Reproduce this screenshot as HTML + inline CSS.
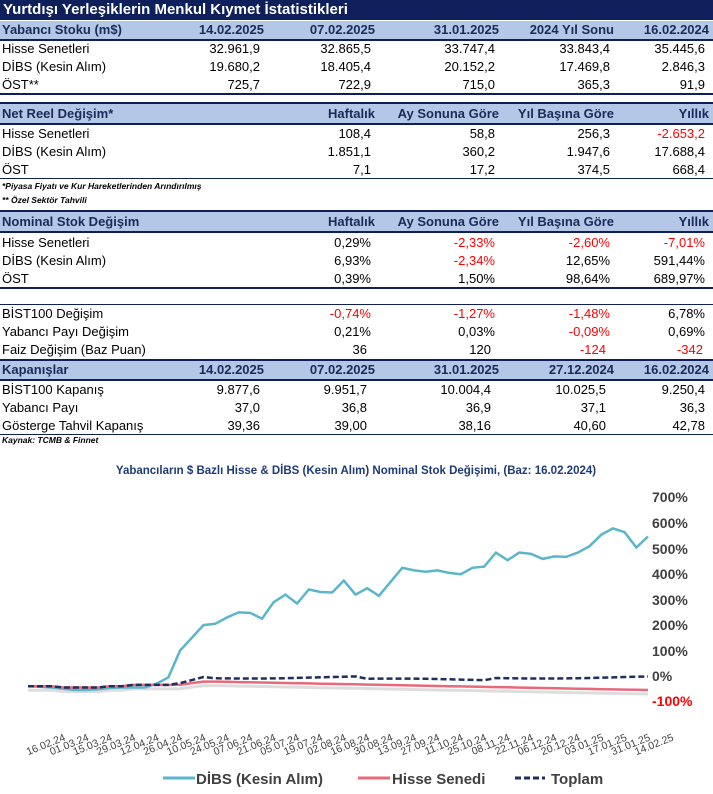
<!DOCTYPE html>
<html><head><meta charset="utf-8">
<style>
body{margin:0;width:713px;height:794px;background:#fff;position:relative;overflow:hidden;font-family:"Liberation Sans",Arial,sans-serif;}
.a{position:absolute;}
.bar{position:absolute;left:0;width:713px;}
.r{position:absolute;left:0;width:713px;height:18px;font-size:13px;line-height:18px;color:#000;}
.r span{position:absolute;top:0;white-space:nowrap;}
.r .l{left:2px;}
.h{font-weight:bold;color:#1a2a5a;font-size:13px;}
.c1{right:449px}.c2{right:338px}.c3{right:214px}.c4{right:99px}.c5{right:4px}
.d .c1{right:453px}.d .c2{right:342px}.d .c3{right:218px}.d .c4{right:103px}.d .c5{right:8px}
.red{color:#f00;}
.note{position:absolute;left:2px;font-size:8.5px;font-weight:bold;font-style:italic;}
</style></head><body>
<div class="bar" style="top:0;height:20px;background:#0e1f5b;"></div>
<div class="a" style="left:3px;top:1px;font-size:15px;font-weight:bold;color:#fff;">Yurtdışı Yerleşiklerin Menkul Kıymet İstatistikleri</div>

<div class="bar" style="top:21px;height:18px;background:#b4c7e7;"></div>
<div class="bar" style="top:39px;height:2px;background:#0e1f5b;"></div>
<div class="r h" style="top:21px"><span class="l">Yabancı Stoku (m$)</span><span class="c1">14.02.2025</span><span class="c2">07.02.2025</span><span class="c3">31.01.2025</span><span class="c4">2024 Yıl Sonu</span><span class="c5">16.02.2024</span></div>
<div class="r d" style="top:40px"><span class="l">Hisse Senetleri</span><span class="c1">32.961,9</span><span class="c2">32.865,5</span><span class="c3">33.747,4</span><span class="c4">33.843,4</span><span class="c5">35.445,6</span></div>
<div class="r d" style="top:58px"><span class="l">DİBS (Kesin Alım)</span><span class="c1">19.680,2</span><span class="c2">18.405,4</span><span class="c3">20.152,2</span><span class="c4">17.469,8</span><span class="c5">2.846,3</span></div>
<div class="r d" style="top:76px"><span class="l">ÖST**</span><span class="c1">725,7</span><span class="c2">722,9</span><span class="c3">715,0</span><span class="c4">365,3</span><span class="c5">91,9</span></div>
<div class="bar" style="top:93px;height:2px;background:#0e1f5b;"></div>

<div class="bar" style="top:102px;height:2px;background:#0e1f5b;"></div>
<div class="bar" style="top:104px;height:19px;background:#b4c7e7;"></div>
<div class="bar" style="top:123px;height:2px;background:#0e1f5b;"></div>
<div class="r h" style="top:105px"><span class="l">Net Reel Değişim*</span><span class="c2">Haftalık</span><span class="c3">Ay Sonuna Göre</span><span class="c4">Yıl Başına Göre</span><span class="c5">Yıllık</span></div>
<div class="r d" style="top:125px"><span class="l">Hisse Senetleri</span><span class="c2">108,4</span><span class="c3">58,8</span><span class="c4">256,3</span><span class="c5 red">-2.653,2</span></div>
<div class="r d" style="top:143px"><span class="l">DİBS (Kesin Alım)</span><span class="c2">1.851,1</span><span class="c3">360,2</span><span class="c4">1.947,6</span><span class="c5">17.688,4</span></div>
<div class="r d" style="top:161px"><span class="l">ÖST</span><span class="c2">7,1</span><span class="c3">17,2</span><span class="c4">374,5</span><span class="c5">668,4</span></div>
<div class="bar" style="top:178px;height:1px;background:#0e1f5b;"></div>
<div class="note" style="top:181px">*Piyasa Fiyatı ve Kur Hareketlerinden Arındırılmış</div>
<div class="note" style="top:195px">** Özel Sektör Tahvili</div>

<div class="bar" style="top:210px;height:2px;background:#0e1f5b;"></div>
<div class="bar" style="top:212px;height:19px;background:#b4c7e7;"></div>
<div class="bar" style="top:231px;height:2px;background:#0e1f5b;"></div>
<div class="r h" style="top:213px"><span class="l">Nominal Stok Değişim</span><span class="c2">Haftalık</span><span class="c3">Ay Sonuna Göre</span><span class="c4">Yıl Başına Göre</span><span class="c5">Yıllık</span></div>
<div class="r d" style="top:234px"><span class="l">Hisse Senetleri</span><span class="c2">0,29%</span><span class="c3 red">-2,33%</span><span class="c4 red">-2,60%</span><span class="c5 red">-7,01%</span></div>
<div class="r d" style="top:252px"><span class="l">DİBS (Kesin Alım)</span><span class="c2">6,93%</span><span class="c3 red">-2,34%</span><span class="c4">12,65%</span><span class="c5">591,44%</span></div>
<div class="r d" style="top:270px"><span class="l">ÖST</span><span class="c2">0,39%</span><span class="c3">1,50%</span><span class="c4">98,64%</span><span class="c5">689,97%</span></div>
<div class="bar" style="top:287px;height:2px;background:#0e1f5b;"></div>
<div class="bar" style="top:304px;height:1px;background:#0e1f5b;"></div>
<div class="r d" style="top:305px"><span class="l">BİST100 Değişim</span><span class="c2 red">-0,74%</span><span class="c3 red">-1,27%</span><span class="c4 red">-1,48%</span><span class="c5">6,78%</span></div>
<div class="r d" style="top:323px"><span class="l">Yabancı Payı Değişim</span><span class="c2">0,21%</span><span class="c3">0,03%</span><span class="c4 red">-0,09%</span><span class="c5">0,69%</span></div>
<div class="r d" style="top:341px"><span class="l">Faiz Değişim (Baz Puan)</span><span class="c2" style="right:346px">36</span><span class="c3" style="right:222px">120</span><span class="c4 red" style="right:107px">-124</span><span class="c5 red" style="right:10px">-342</span></div>
<div class="bar" style="top:359px;height:2px;background:#0e1f5b;"></div>
<div class="bar" style="top:361px;height:18px;background:#b4c7e7;"></div>
<div class="bar" style="top:379px;height:2px;background:#0e1f5b;"></div>
<div class="r h" style="top:361px"><span class="l">Kapanışlar</span><span class="c1">14.02.2025</span><span class="c2">07.02.2025</span><span class="c3">31.01.2025</span><span class="c4">27.12.2024</span><span class="c5">16.02.2024</span></div>
<div class="r d" style="top:381px"><span class="l">BİST100 Kapanış</span><span class="c1">9.877,6</span><span class="c2" style="right:346px">9.951,7</span><span class="c3" style="right:222px">10.004,4</span><span class="c4" style="right:107px">10.025,5</span><span class="c5">9.250,4</span></div>
<div class="r d" style="top:399px"><span class="l">Yabancı Payı</span><span class="c1">37,0</span><span class="c2" style="right:346px">36,8</span><span class="c3" style="right:222px">36,9</span><span class="c4" style="right:107px">37,1</span><span class="c5">36,3</span></div>
<div class="r d" style="top:417px"><span class="l">Gösterge Tahvil Kapanış</span><span class="c1">39,36</span><span class="c2" style="right:346px">39,00</span><span class="c3" style="right:222px">38,16</span><span class="c4" style="right:107px">40,60</span><span class="c5">42,78</span></div>
<div class="bar" style="top:434px;height:1px;background:#0e1f5b;"></div>
<div class="note" style="top:435px">Kaynak: TCMB &amp; Finnet</div>

<svg class="a" style="left:0;top:0" width="713" height="794" font-family="Liberation Sans, sans-serif">
<text x="356" y="474" text-anchor="middle" font-size="11.5" font-weight="bold" fill="#1f3a78">Yabancıların $ Bazlı Hisse &amp; DİBS (Kesin Alım) Nominal Stok Değişimi, (Baz: 16.02.2024)</text>
<g font-size="14" font-weight="bold" fill="#404040" text-anchor="start">
<text x="652" y="502">700%</text><text x="652" y="528">600%</text><text x="652" y="554">500%</text>
<text x="652" y="579">400%</text><text x="652" y="605">300%</text><text x="652" y="630">200%</text>
<text x="652" y="656">100%</text><text x="652" y="681">0%</text><text x="652" y="706" fill="#f00">-100%</text>
</g>
<g id="lines"></g>
<g id="xl" font-size="10.5" fill="#404040"></g>
<g font-size="15" font-weight="bold" fill="#404040">
<line x1="163" y1="778" x2="195" y2="778" stroke="#5bb6c9" stroke-width="3"/>
<text x="196" y="784">DİBS (Kesin Alım)</text>
<line x1="358" y1="778" x2="390" y2="778" stroke="#e8697a" stroke-width="3"/>
<text x="392" y="784">Hisse Senedi</text>
<line x1="515" y1="778" x2="545" y2="778" stroke="#1f2f5f" stroke-width="3" stroke-dasharray="6,3"/>
<text x="551" y="784">Toplam</text>
</g>
</svg>
<script>
var d=[-40,-42,-45,-50,-55,-55,-52,-47,-45,-45,-45,-30,-5,100,150,200,205,230,250,248,225,290,320,285,340,330,328,375,320,345,315,370,425,415,410,415,405,400,425,430,485,455,485,480,460,470,468,485,510,555,580,565,505,548];
var n=d.length,x0=28,x1=648;
function X(i){return x0+(x1-x0)*i/(n-1);}
function Y(v){return 676-v*0.2545;}
var t=[],h=[];
for(var i=0;i<n;i++){
 var tv,hv;
 if(i<13){tv=-40+(i>8?5:0)-(i>2&&i<7?5:0);hv=tv;}
 else if(i<16){tv=-40+(i-12)*12;hv=-40+(i-12)*6;}
 else{tv=-5+5*Math.sin(i/4)-(i>28&&i<40?10:0);hv=-22-(i-16)*0.9;if(hv<-55)hv=-55+((i%5)?0:3);}
 t.push(tv);h.push(hv);
}
function pts(a,dy){return a.map(function(v,i){return X(i).toFixed(1)+","+(Y(v)+(dy||0)).toFixed(1)}).join(" ");}
var g=document.getElementById("lines");
g.innerHTML='<polyline points="'+pts(h,4)+'" fill="none" stroke="#dddddd" stroke-width="3"/>'+
'<polyline points="'+pts(d)+'" fill="none" stroke="#5bb6c9" stroke-width="2.5"/>'+
'<polyline points="'+pts(h)+'" fill="none" stroke="#e8697a" stroke-width="2.5"/>'+
'<polyline points="'+pts(t)+'" fill="none" stroke="#1f2f5f" stroke-width="2.5" stroke-dasharray="6,3"/>';
var L=["16.02.24","01.03.24","15.03.24","29.03.24","12.04.24","26.04.24","10.05.24","24.05.24","07.06.24","21.06.24","05.07.24","19.07.24","02.08.24","16.08.24","30.08.24","13.09.24","27.09.24","11.10.24","25.10.24","08.11.24","22.11.24","06.12.24","20.12.24","03.01.25","17.01.25","31.01.25","14.02.25"];
var s="";
for(var j=0;j<L.length;j++){var xx=X(j*2)+38,yy=740;s+='<text x="'+xx+'" y="'+yy+'" text-anchor="end" transform="rotate(-22 '+xx+' '+yy+')">'+L[j]+'</text>';}
document.getElementById("xl").innerHTML=s;
</script>
</body></html>
